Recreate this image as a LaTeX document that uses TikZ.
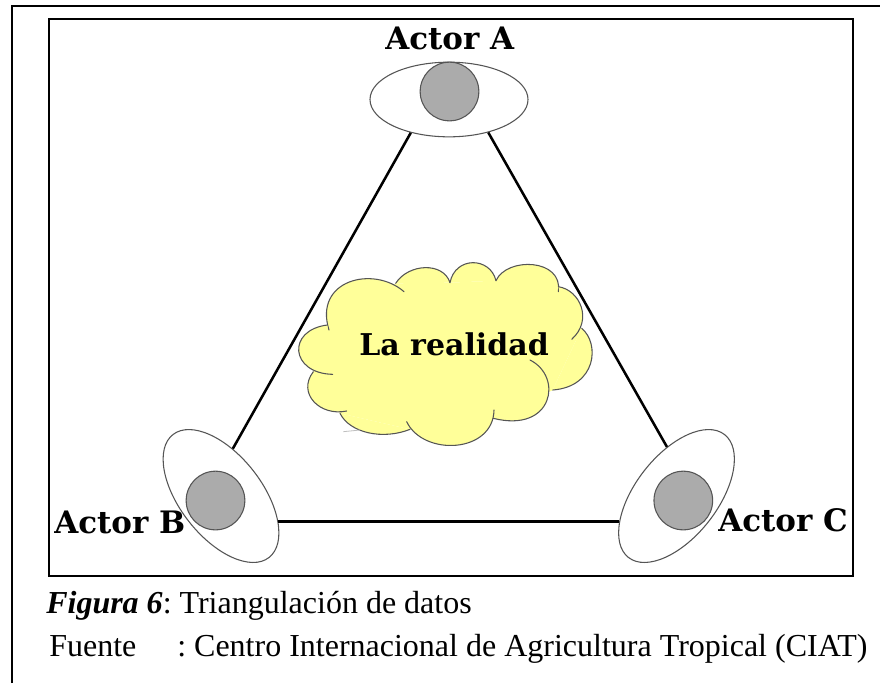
\documentclass[tikz,border=0pt]{standalone}
\usepackage{fontspec}
\setmainfont{Liberation Serif}
\newfontfamily\boldslab{DejaVu Serif}
\usetikzlibrary{shapes.geometric}
\definecolor{cloudfill}{HTML}{FFFF99}
\definecolor{pupilfill}{HTML}{ABABAB}
\definecolor{thinline}{HTML}{555555}
\newcommand\cloudlobe[1]{\fill[cloudfill] #1 -- cycle; \draw[cloudline] #1;}
\frenchspacing
\tikzset{
  frameline/.style={draw=black,line width=1.5pt},
  edgeline/.style={draw=black,line width=1.9pt},
  eye/.style={ellipse,draw=thinline,line width=0.8pt,fill=white,inner sep=0pt},
  pupil/.style={circle,draw=thinline,line width=0.8pt,fill=pupilfill,minimum size=44pt,inner sep=0pt},
  actor/.style={font=\boldslab\bfseries\fontsize{23.2}{26}\selectfont,inner sep=0pt,anchor=base west,text=black},
  captext/.style={font=\fontsize{24}{28}\selectfont,inner sep=0pt,anchor=base west,text=black},
  cloudline/.style={draw=thinline,line width=0.8pt,line cap=round}
}
\begin{document}
\begin{tikzpicture}[x=0.75pt,y=-0.75pt]
\useasboundingbox (0,0) rectangle (880,683);
\fill[white] (0,0) rectangle (880,683);
\coordinate (outerbl) at (11.5,683);
\coordinate (outertl) at (11.5,5.5);
\coordinate (outertr) at (880,5.5);
\draw[frameline] (outerbl) -- (outertl) -- (outertr);
\node[frameline,minimum width=603pt,minimum height=417.5pt,anchor=north west,inner sep=0pt] (frame) at (47.8,18.4) {};
% eyes
\node[eye,minimum width=118.5pt,minimum height=56pt] (ea) at (449,99.5) {};
\node[eye,minimum width=117pt,minimum height=61.5pt,rotate=-52] (eb) at (221,496) {};
\node[eye,minimum width=117pt,minimum height=61.5pt,rotate=52] (ec) at (676.5,496) {};
\draw[edgeline] (ea.221) -- (eb.128.6);
\draw[edgeline] (ea.320) -- (ec.49.7);
\draw[edgeline] (eb.28) -- (ec.152.4);
\node[pupil] (pa) at (449.5,91.5) {};
\node[pupil] (pb) at (215.5,500.5) {};
\node[pupil] (pc) at (683.3,500.5) {};
% cloud: coordinates in 1/3 px from the cloud's crop corner
\begin{scope}[shift={(280,240)},x=0.25pt,y=-0.25pt]
\fill[cloudfill] (147,270) -- (347,130) -- (510,128) -- (648,122) -- (835,140) -- (905,265) -- (818,450) -- (640,535) -- (390,568) -- (180,520) -- (100,395) -- (142,255) -- cycle;
\cloudlobe{(147,270) .. controls (100,120) and (280,75) .. (372,155)}
\cloudlobe{(347,130) .. controls (385,70) and (490,65) .. (510,128)}
\cloudlobe{(510,128) .. controls (525,49) and (630,49) .. (648,122)}
\cloudlobe{(648,122) .. controls (680,50) and (850,55) .. (835,155)}
\cloudlobe{(835,140) .. controls (900,150) and (940,240) .. (875,298)}
\cloudlobe{(905,265) .. controls (960,310) and (950,440) .. (818,450)}
\fill[cloudfill] (750,360) -- (818,450) -- (640,535) -- cycle;
\cloudlobe{(750,360) .. controls (850,410) and (820,580) .. (640,535)}
\cloudlobe{(642,510) .. controls (640,640) and (430,650) .. (380,545)}
\cloudlobe{(390,568) .. controls (310,600) and (210,580) .. (180,520)}
\cloudlobe{(200,513) .. controls (120,530) and (50,460) .. (100,395)}
\cloudlobe{(158,403) .. controls (30,400) and (20,270) .. (142,255)}
\draw[black!25,line width=0.6pt] (190,575) -- (240,570);
\end{scope}
\node[actor,font=\boldslab\bfseries\fontsize{22.5}{26}\selectfont] (cloudtext) at (359,355.7) {La realidad};
\node[actor] (la) at (385,49.5) {Actor A};
\node[actor] (lb) at (54,533) {Actor B};
\node[actor] (lc) at (718,531) {Actor C};
\node[captext] (figcap) at (46,613) {\frenchspacing\textbf{\textit{Figura 6}}: Triangulación de datos};
\node[captext] (srclab) at (49,656) {Fuente};
\node[captext] (srctxt) at (177,656) {\frenchspacing: Centro Internacional de Agricultura Tropical (CIAT)};
\end{tikzpicture}
\end{document}
